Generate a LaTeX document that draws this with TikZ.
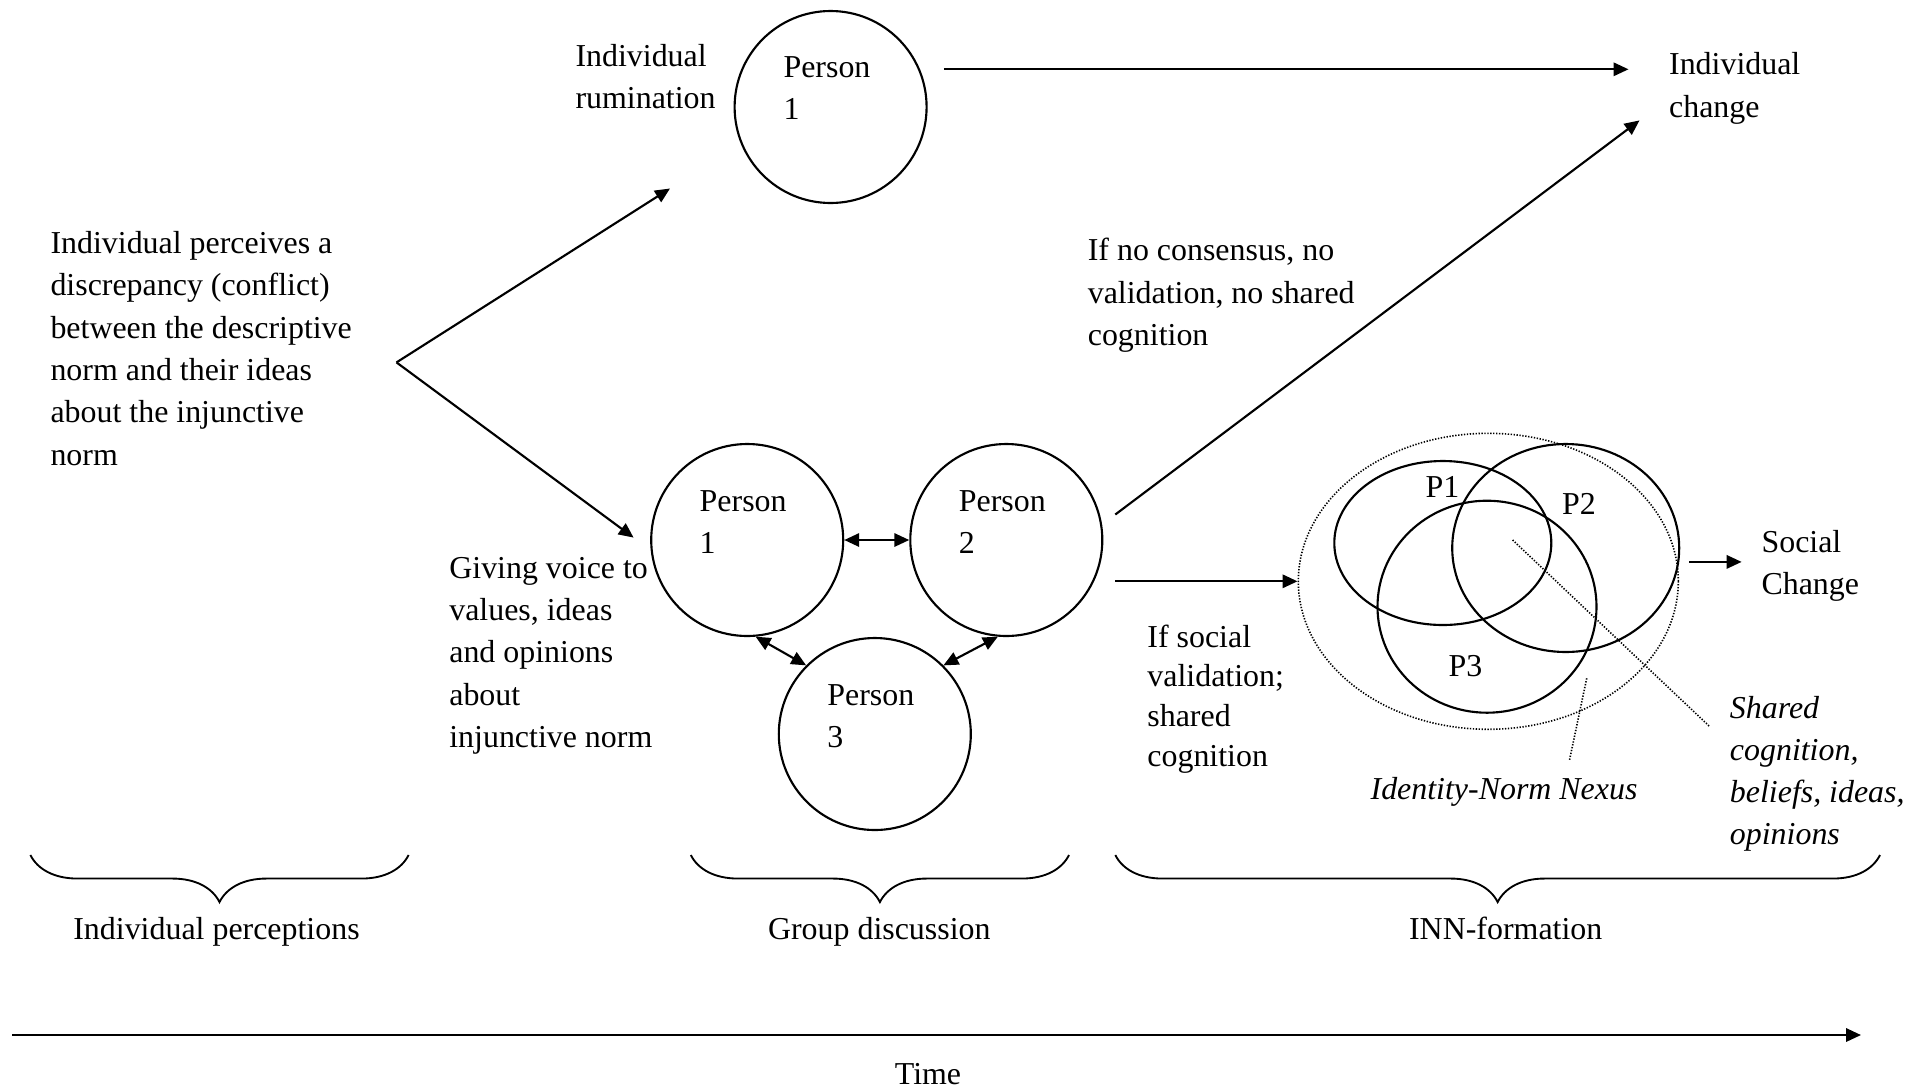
\documentclass[tikz,border=0pt]{standalone}
\usepackage{fontspec}
\setmainfont{Liberation Serif}
\usetikzlibrary{arrows.meta,shapes.geometric,decorations.pathreplacing}

\begin{document}
\begin{tikzpicture}[x=3.76pt,y=3.76pt,
    txt/.style={font=\fontsize{12}{15.9}\selectfont, align=left, inner sep=0pt, anchor=base west},
    pers/.style={circle, draw, line width=0.8pt, minimum size=19.2*3.76pt, inner sep=0pt},
    venn/.style={ellipse, draw, line width=0.8pt, inner sep=0pt},
    arr/.style={-{Triangle[length=5.6pt,width=5pt]}, line width=0.8pt},
    twoarr/.style={{Triangle[length=5.6pt,width=5pt]}-{Triangle[length=5.6pt,width=5pt]}, line width=0.8pt},
    leader/.style={line width=0.6pt, dash pattern=on 0.5pt off 0.6pt},
    curly/.style={decorate, decoration={brace, mirror, amplitude=17.7pt}, line width=0.7pt}]

    \useasboundingbox (0,0) rectangle (190.7,-109);

    % Individual perception of the discrepancy
    \node[txt] (percv) at (5.0,-46.5) {Individual perceives a\\discrepancy (conflict)\\between the descriptive\\norm and their ideas\\about the injunctive\\norm};
    \coordinate (fork) at (39.65,-36.24);
    \coordinate (forkup) at (67.0,-18.85);
    \coordinate (forkdown) at (63.36,-53.76);
    \draw[arr] (fork) -- (forkup);
    \draw[arr] (fork) -- (forkdown);

    % Individual rumination
    \node[txt] (rumi) at (57.5,-10.83) {Individual\\rumination};
    \node[pers] (top1) at (83.06,-10.7) {};
    \node[txt] at (78.3,-11.93) {Person\\1};
    \coordinate (indstart) at (94.38,-6.93);
    \coordinate (indend) at (162.85,-6.93);
    \draw[arr] (indstart) -- (indend);
    \node[txt] (indchange) at (166.86,-11.7) {Individual\\change};

    % Group discussion
    \node[pers] (grp1) at (74.72,-54.0) {};
    \node[pers] (grp2) at (100.63,-54.0) {};
    \node[pers] (grp3) at (87.48,-73.4) {};
    \node[txt] at (69.92,-55.33) {Person\\1};
    \node[txt] at (95.83,-55.33) {Person\\2};
    \node[txt] at (82.68,-74.73) {Person\\3};
    \draw[twoarr] (grp1) -- (grp2);
    \draw[twoarr] (grp1.-85) -- (grp3.135);
    \draw[twoarr] (grp2.-95) -- (grp3.45);
    \node[txt] (voice) at (44.88,-74.74) {Giving voice to\\values, ideas\\and opinions\\about\\injunctive norm};

    % No consensus
    \node[txt] (nocons) at (108.73,-34.54) {If no consensus, no\\validation, no shared\\cognition};
    \coordinate (nostart) at (111.53,-51.45);
    \coordinate (noend) at (163.95,-12.04);
    \draw[arr] (nostart) -- (noend);

    % Social validation and INN
    \node[venn, leader, minimum width=38.0*3.76pt, minimum height=29.6*3.76pt] (inn) at (148.83,-58.13) {};
    \node[venn, minimum width=21.7*3.76pt, minimum height=16.4*3.76pt] (vp1) at (144.28,-54.3) {};
    \node[venn, minimum width=22.7*3.76pt, minimum height=20.8*3.76pt] (vp2) at (156.57,-54.8) {};
    \node[venn, minimum width=21.9*3.76pt, minimum height=21.2*3.76pt] (vp3) at (148.7,-60.67) {};
    \node[font=\fontsize{12}{15.9}\selectfont] at (144.24,-48.67) {P1};
    \node[font=\fontsize{12}{15.9}\selectfont] at (157.9,-50.4) {P2};
    \node[font=\fontsize{12}{15.9}\selectfont] at (146.55,-66.6) {P3};
    \coordinate (yesstart) at (111.53,-58.13);
    \draw[arr] (yesstart) -- (inn.west);
    \node[txt, font=\fontsize{12}{15}\selectfont] (yes) at (114.69,-76.67) {If social\\validation;\\shared\\cognition};

    % Leaders to the italic labels
    \coordinate (sharedfrom) at (151.26,-54.0);
    \coordinate (sharedto) at (170.98,-72.67);
    \coordinate (nexusfrom) at (158.67,-67.83);
    \coordinate (nexusto) at (156.95,-76.0);
    \draw[leader] (sharedfrom) -- (sharedto);
    \draw[leader] (nexusfrom) -- (nexusto);
    \node[txt, anchor=base] (nexus) at (150.4,-79.95) {\itshape Identity-Norm Nexus};
    \node[txt] (shared) at (172.94,-84.49) {\itshape Shared\\\itshape cognition,\\\itshape beliefs, ideas,\\\itshape opinions};

    % Social change
    \coordinate (socstart) at (168.93,-56.19);
    \coordinate (socend) at (174.16,-56.19);
    \draw[arr] (socstart) -- (socend);
    \node[txt] (social) at (176.1,-59.49) {Social\\Change};

    % Braces for the phases
    \draw[curly] (3.04,-85.5) -- (40.86,-85.5);
    \draw[curly] (69.08,-85.5) -- (106.9,-85.5);
    \draw[curly] (111.53,-85.5) -- (188.0,-85.5);
    \node[txt, anchor=base] (phase1) at (21.65,-93.94) {Individual perceptions};
    \node[txt, anchor=base] (phase2) at (87.93,-93.94) {Group discussion};
    \node[txt, anchor=base] (phase3) at (150.57,-93.94) {INN-formation};

    % Time axis
    \coordinate (tstart) at (1.2,-103.5);
    \coordinate (tend) at (186.1,-103.5);
    \draw[arr] (tstart) -- (tend);
    \node[txt, anchor=base] (time) at (92.8,-108.4) {Time};

\end{tikzpicture}
\end{document}
